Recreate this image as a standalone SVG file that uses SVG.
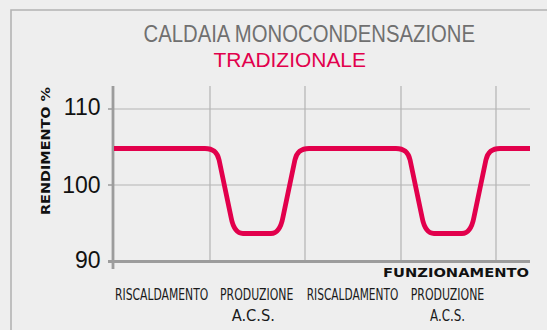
<svg xmlns="http://www.w3.org/2000/svg" width="547" height="330" viewBox="0 0 547 330">
<style>
.grid{stroke:#b4b4b4;stroke-width:1.2;fill:none}
.axis{stroke:#9c9c9c;fill:none}
.num{font-family:"Liberation Sans",Arial,sans-serif;font-size:23px;fill:#111;text-anchor:end}
.cat{font-family:"DejaVu Sans Condensed","DejaVu Sans",sans-serif;font-size:12px;fill:#1a1a1a}
.ax{font-family:"DejaVu Sans","Liberation Sans",sans-serif;font-weight:bold;font-size:11.5px;fill:#111}
.title{font-family:"Liberation Sans",Arial,sans-serif;font-size:23px;fill:#707070}
.sub{font-family:"Liberation Sans",Arial,sans-serif;font-size:21px;fill:#e2004c}
.curve{stroke:#e2004c;stroke-width:4.8;fill:none;stroke-linejoin:round}
</style>
<rect x="0" y="0" width="547" height="330" fill="#eeeeee"/>
<path d="M11,335 V10 H552" fill="none" stroke="#b3b3b3" stroke-width="1.6"/>
<g id="title">
<text class="title" x="143.5" y="41.7" textLength="331.5" lengthAdjust="spacingAndGlyphs">CALDAIA MONOCONDENSAZIONE</text>
<text class="sub" x="213.5" y="66.5" textLength="152.5" lengthAdjust="spacingAndGlyphs">TRADIZIONALE</text>
</g>
<g id="grid">
<path class="grid" d="M113,109 H530 M113,185 H530 M210,86 V263 M305,86 V263 M401,86 V263 M496,86 V263"/>
</g>
<g id="axes">
<path class="axis" stroke-width="2.8" d="M113,86 V269"/>
<path class="axis" stroke-width="3" d="M108,261.5 H530"/>
<path class="axis" stroke-width="1.6" d="M108,109 H113 M108,185 H113"/>
</g>
<g id="y-labels">
<text class="num" x="100.5" y="115">110</text>
<text class="num" x="100.5" y="192.5">100</text>
<text class="num" x="100.5" y="268.3">90</text>
<text class="ax" transform="translate(50,151) rotate(-90)" text-anchor="middle" textLength="128" lengthAdjust="spacingAndGlyphs">RENDIMENTO %</text>
</g>
<g id="x-labels">
<text class="ax" x="383" y="276.7" textLength="146" lengthAdjust="spacingAndGlyphs">FUNZIONAMENTO</text>
<text class="cat" transform="translate(115,300) scale(1,1.26)" textLength="93.3" lengthAdjust="spacingAndGlyphs">RISCALDAMENTO</text>
<text class="cat" transform="translate(220,300) scale(1,1.26)" textLength="73.3" lengthAdjust="spacingAndGlyphs">PRODUZIONE</text>
<text class="cat" transform="translate(231.7,321) scale(1,1.26)" textLength="43.3" lengthAdjust="spacingAndGlyphs">A.C.S.</text>
<text class="cat" transform="translate(306.7,300) scale(1,1.26)" textLength="91.6" lengthAdjust="spacingAndGlyphs">RISCALDAMENTO</text>
<text class="cat" transform="translate(410.7,300) scale(1,1.26)" textLength="73.6" lengthAdjust="spacingAndGlyphs">PRODUZIONE</text>
<text class="cat" transform="translate(430,321) scale(1,1.26)" textLength="35" lengthAdjust="spacingAndGlyphs">A.C.S.</text>
</g>
<g id="curve">
<path class="curve" d="M114,148.5 H205 C214,148.5 217.5,153 219.1,160 L231,217 C232.5,225 235,233.5 243,233.5 H271 C279,233.5 281.5,225 283,217 L294.9,160 C296.5,153 300,148.5 309,148.5 H396 C405,148.5 408.5,153 410.1,160 L422,217 C423.5,225 426,233.5 434,233.5 H462 C470,233.5 472.5,225 474,217 L485.9,160 C487.5,153 491,148.5 500,148.5 H530"/>
</g>
</svg>
